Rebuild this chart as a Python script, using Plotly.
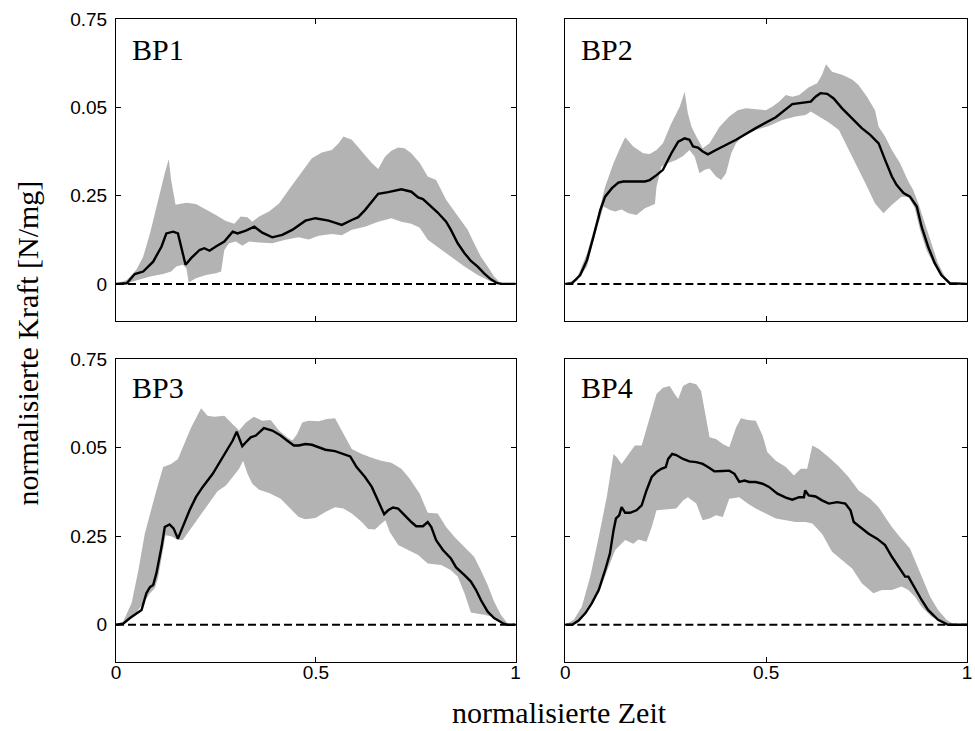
import plotly.graph_objects as go

# ---------------- data ----------------
tick_vals_y = [0, 0.25, 0.5, 0.75]
tick_text_y = ["0", "0.25", "0.05", "0.75"]
tick_vals_x = [0, 0.5, 1]
tick_text_x = ["0", "0.5", "1"]
panel_names = ["BP1", "BP2", "BP3", "BP4"]

bp1_mean_x = [0,0.022,0.027,0.047,0.068,0.093,0.114,0.126,0.143,0.155,0.174,0.188,0.209,0.221,0.234,0.250,0.271,0.292,0.304,0.325,0.346,0.366,0.391,0.416,0.441,0.474,0.499,0.532,0.565,0.590,0.606,0.623,0.656,0.681,0.714,0.739,0.756,0.768,0.789,0.805,0.826,0.838,0.855,0.872,0.888,0.905,0.921,0.938,0.954,0.967,1]
bp1_mean_y = [0,0,0.002,0.028,0.035,0.063,0.106,0.143,0.148,0.143,0.054,0.073,0.096,0.101,0.094,0.106,0.120,0.148,0.143,0.151,0.162,0.145,0.132,0.139,0.153,0.179,0.186,0.179,0.167,0.181,0.189,0.209,0.255,0.260,0.268,0.261,0.245,0.240,0.219,0.202,0.176,0.153,0.115,0.087,0.065,0.049,0.030,0.013,0.002,0,0]
bp1_up_x = [0,0.027,0.051,0.068,0.085,0.105,0.122,0.132,0.138,0.149,0.176,0.200,0.225,0.250,0.275,0.296,0.312,0.329,0.341,0.358,0.383,0.408,0.432,0.457,0.490,0.515,0.540,0.557,0.569,0.590,0.615,0.640,0.656,0.673,0.689,0.706,0.722,0.739,0.760,0.780,0.801,0.814,0.826,0.847,0.863,0.880,0.896,0.913,0.930,0.946,0.963,1]
bp1_up_y = [0,0.011,0.040,0.077,0.143,0.238,0.313,0.353,0.294,0.224,0.230,0.226,0.211,0.195,0.178,0.170,0.191,0.189,0.176,0.191,0.205,0.228,0.266,0.304,0.356,0.372,0.379,0.398,0.417,0.408,0.375,0.342,0.325,0.360,0.377,0.386,0.384,0.370,0.342,0.304,0.294,0.266,0.238,0.205,0.181,0.153,0.115,0.077,0.049,0.021,0.002,0]
bp1_lo_x = [0,0.027,0.051,0.085,0.118,0.138,0.151,0.167,0.176,0.182,0.200,0.225,0.250,0.263,0.271,0.283,0.300,0.316,0.333,0.358,0.391,0.424,0.457,0.482,0.507,0.540,0.565,0.590,0.623,0.656,0.689,0.714,0.739,0.760,0.780,0.805,0.838,0.872,0.905,0.938,0.954,1]
bp1_lo_y = [0,0.002,0.011,0.021,0.028,0.035,0.049,0.054,0.044,0.004,0.016,0.025,0.030,0.035,0.096,0.115,0.120,0.108,0.120,0.117,0.115,0.125,0.132,0.126,0.136,0.141,0.138,0.153,0.162,0.176,0.186,0.176,0.170,0.159,0.125,0.106,0.077,0.049,0.025,0.007,0.002,0]

bp2_mean_x = [0,0.017,0.037,0.054,0.070,0.087,0.099,0.116,0.132,0.144,0.198,0.210,0.227,0.243,0.264,0.281,0.297,0.309,0.318,0.330,0.342,0.355,0.375,0.425,0.474,0.524,0.565,0.611,0.623,0.635,0.652,0.668,0.689,0.714,0.738,0.759,0.780,0.796,0.813,0.825,0.842,0.858,0.875,0.887,0.903,0.920,0.936,0.957,1]
bp2_mean_y = [0,0.002,0.025,0.068,0.134,0.209,0.247,0.271,0.287,0.290,0.290,0.294,0.308,0.323,0.370,0.403,0.412,0.408,0.389,0.386,0.375,0.367,0.379,0.408,0.441,0.472,0.509,0.516,0.530,0.540,0.538,0.525,0.497,0.469,0.441,0.422,0.398,0.351,0.304,0.280,0.257,0.247,0.219,0.162,0.106,0.058,0.025,0.002,0]
bp2_up_x = [0,0.029,0.054,0.078,0.099,0.120,0.136,0.149,0.169,0.194,0.210,0.227,0.243,0.264,0.285,0.297,0.305,0.314,0.326,0.342,0.359,0.384,0.408,0.429,0.450,0.474,0.499,0.516,0.532,0.549,0.565,0.582,0.606,0.627,0.639,0.649,0.664,0.689,0.714,0.730,0.751,0.771,0.780,0.796,0.813,0.833,0.854,0.866,0.879,0.895,0.912,0.928,0.945,0.961,1]
bp2_up_y = [0,0.016,0.087,0.181,0.275,0.342,0.384,0.415,0.389,0.370,0.368,0.379,0.398,0.455,0.502,0.544,0.483,0.445,0.417,0.384,0.398,0.445,0.474,0.492,0.497,0.494,0.492,0.502,0.516,0.535,0.530,0.535,0.557,0.568,0.592,0.622,0.601,0.592,0.579,0.563,0.530,0.492,0.445,0.417,0.379,0.342,0.290,0.266,0.228,0.172,0.110,0.058,0.021,0.002,0]
bp2_lo_x = [0,0.029,0.054,0.074,0.095,0.111,0.124,0.140,0.157,0.177,0.198,0.223,0.227,0.239,0.256,0.276,0.293,0.309,0.322,0.334,0.347,0.359,0.375,0.388,0.400,0.413,0.425,0.441,0.474,0.507,0.540,0.573,0.598,0.611,0.631,0.656,0.681,0.697,0.722,0.747,0.771,0.792,0.813,0.837,0.854,0.870,0.883,0.899,0.916,0.936,0.953,1]
bp2_lo_y = [0,0.009,0.049,0.140,0.219,0.209,0.205,0.211,0.200,0.195,0.214,0.226,0.275,0.332,0.342,0.351,0.362,0.379,0.360,0.313,0.323,0.327,0.304,0.294,0.313,0.370,0.398,0.417,0.436,0.447,0.464,0.474,0.478,0.488,0.474,0.457,0.436,0.398,0.342,0.285,0.228,0.200,0.224,0.247,0.247,0.214,0.153,0.096,0.058,0.025,0.002,0]

bp3_mean_x = [0,0.018,0.035,0.051,0.064,0.076,0.085,0.093,0.101,0.114,0.122,0.134,0.144,0.155,0.167,0.184,0.200,0.217,0.242,0.258,0.275,0.292,0.302,0.308,0.316,0.325,0.337,0.350,0.370,0.391,0.412,0.428,0.445,0.457,0.474,0.490,0.507,0.524,0.548,0.565,0.586,0.602,0.623,0.640,0.656,0.671,0.681,0.693,0.706,0.722,0.739,0.751,0.768,0.780,0.789,0.801,0.818,0.838,0.851,0.872,0.888,0.901,0.913,0.930,0.946,0.967,0.979,1]
bp3_mean_y = [0,0.003,0.019,0.033,0.042,0.089,0.106,0.112,0.145,0.220,0.276,0.283,0.272,0.243,0.276,0.323,0.360,0.389,0.426,0.456,0.487,0.520,0.545,0.529,0.504,0.515,0.529,0.534,0.555,0.548,0.534,0.520,0.506,0.506,0.510,0.508,0.501,0.494,0.490,0.484,0.475,0.445,0.417,0.389,0.351,0.312,0.323,0.331,0.328,0.309,0.290,0.278,0.278,0.290,0.276,0.239,0.211,0.187,0.162,0.140,0.122,0.098,0.070,0.037,0.019,0.005,0,0]
bp3_up_x = [0,0.018,0.039,0.056,0.072,0.085,0.101,0.118,0.138,0.155,0.171,0.188,0.213,0.229,0.246,0.271,0.292,0.308,0.325,0.345,0.366,0.387,0.408,0.428,0.441,0.453,0.466,0.482,0.507,0.528,0.548,0.569,0.590,0.615,0.640,0.664,0.689,0.714,0.735,0.760,0.780,0.805,0.826,0.847,0.872,0.896,0.913,0.930,0.946,0.963,0.979,1]
bp3_up_y = [0,0.009,0.061,0.154,0.257,0.314,0.379,0.445,0.454,0.468,0.510,0.557,0.611,0.590,0.587,0.590,0.566,0.548,0.571,0.587,0.576,0.578,0.548,0.529,0.520,0.538,0.571,0.576,0.574,0.581,0.583,0.538,0.496,0.482,0.471,0.463,0.457,0.440,0.412,0.370,0.316,0.314,0.276,0.248,0.220,0.192,0.154,0.112,0.066,0.028,0.005,0]
bp3_lo_x = [0,0.022,0.043,0.068,0.085,0.097,0.105,0.118,0.124,0.138,0.155,0.167,0.184,0.209,0.234,0.254,0.275,0.292,0.308,0.318,0.329,0.341,0.358,0.383,0.412,0.437,0.457,0.474,0.499,0.524,0.548,0.569,0.590,0.615,0.631,0.648,0.664,0.674,0.685,0.706,0.731,0.756,0.780,0.814,0.838,0.855,0.872,0.888,0.921,0.946,0.967,1]
bp3_lo_y = [0,0.003,0.023,0.061,0.089,0.103,0.131,0.211,0.253,0.250,0.239,0.239,0.267,0.304,0.346,0.377,0.393,0.417,0.440,0.463,0.426,0.398,0.381,0.372,0.356,0.328,0.304,0.298,0.301,0.318,0.332,0.328,0.314,0.290,0.270,0.269,0.286,0.295,0.262,0.225,0.211,0.197,0.173,0.169,0.154,0.136,0.089,0.035,0.028,0.022,0.005,0]

bp4_mean_x = [0,0.017,0.033,0.050,0.066,0.083,0.099,0.111,0.120,0.126,0.134,0.140,0.149,0.161,0.177,0.190,0.202,0.215,0.227,0.239,0.250,0.256,0.266,0.276,0.293,0.309,0.326,0.342,0.355,0.371,0.392,0.408,0.421,0.433,0.446,0.458,0.474,0.491,0.507,0.528,0.549,0.565,0.582,0.594,0.597,0.606,0.623,0.639,0.656,0.677,0.697,0.710,0.718,0.734,0.755,0.776,0.796,0.813,0.829,0.846,0.854,0.870,0.887,0.903,0.928,0.953,1]
bp4_mean_y = [0,0,0.012,0.033,0.061,0.098,0.154,0.201,0.267,0.300,0.309,0.332,0.316,0.316,0.323,0.337,0.379,0.417,0.431,0.440,0.445,0.468,0.482,0.479,0.468,0.461,0.459,0.454,0.445,0.433,0.434,0.435,0.426,0.403,0.407,0.403,0.403,0.398,0.389,0.370,0.359,0.353,0.360,0.360,0.379,0.365,0.362,0.351,0.342,0.346,0.342,0.323,0.290,0.276,0.257,0.243,0.225,0.192,0.164,0.136,0.136,0.103,0.070,0.042,0.014,0,0]
bp4_up_x = [0,0.021,0.041,0.062,0.083,0.103,0.120,0.128,0.140,0.157,0.173,0.190,0.210,0.227,0.243,0.260,0.272,0.281,0.293,0.309,0.326,0.338,0.347,0.359,0.375,0.392,0.408,0.425,0.437,0.454,0.474,0.491,0.503,0.524,0.549,0.569,0.586,0.602,0.615,0.631,0.656,0.681,0.705,0.730,0.759,0.780,0.796,0.813,0.833,0.858,0.870,0.887,0.908,0.928,0.949,0.969,1]
bp4_up_y = [0,0.014,0.051,0.136,0.248,0.360,0.482,0.473,0.454,0.482,0.506,0.506,0.585,0.651,0.669,0.674,0.651,0.637,0.674,0.684,0.679,0.660,0.604,0.529,0.524,0.510,0.501,0.557,0.583,0.578,0.576,0.534,0.487,0.463,0.445,0.421,0.440,0.440,0.506,0.496,0.473,0.447,0.417,0.379,0.356,0.332,0.304,0.276,0.248,0.215,0.183,0.136,0.080,0.042,0.014,0,0]
bp4_lo_x = [0,0.021,0.041,0.062,0.083,0.103,0.124,0.149,0.169,0.182,0.202,0.215,0.227,0.252,0.276,0.293,0.305,0.326,0.342,0.359,0.375,0.392,0.408,0.433,0.454,0.474,0.499,0.524,0.549,0.573,0.598,0.615,0.639,0.664,0.689,0.714,0.738,0.767,0.788,0.813,0.837,0.854,0.870,0.887,0.912,0.936,0.953,1]
bp4_lo_y = [0,0.003,0.023,0.061,0.089,0.150,0.211,0.239,0.229,0.241,0.234,0.276,0.323,0.326,0.328,0.351,0.360,0.342,0.295,0.300,0.309,0.304,0.356,0.360,0.342,0.328,0.314,0.300,0.295,0.290,0.290,0.286,0.257,0.206,0.183,0.159,0.117,0.089,0.098,0.098,0.108,0.098,0.080,0.051,0.023,0.009,0,0]

# ---------------- figure ----------------
panels = [
    (bp1_mean_x, bp1_mean_y, bp1_up_x, bp1_up_y, bp1_lo_x, bp1_lo_y),
    (bp2_mean_x, bp2_mean_y, bp2_up_x, bp2_up_y, bp2_lo_x, bp2_lo_y),
    (bp3_mean_x, bp3_mean_y, bp3_up_x, bp3_up_y, bp3_lo_x, bp3_lo_y),
    (bp4_mean_x, bp4_mean_y, bp4_up_x, bp4_up_y, bp4_lo_x, bp4_lo_y),
]

BAND = "rgb(179,179,179)"
fig = go.Figure()
for i, (mx, my, ux, uy, lx, ly) in enumerate(panels):
    s = "" if i == 0 else str(i + 1)
    xa, ya = "x" + s, "y" + s
    fig.add_trace(go.Scatter(x=list(ux) + list(lx)[::-1], y=list(uy) + list(ly)[::-1],
                             fill="toself", fillcolor=BAND, mode="lines",
                             line=dict(width=0, color=BAND), xaxis=xa, yaxis=ya,
                             showlegend=False, hoverinfo="skip"))
    fig.add_trace(go.Scatter(x=[0, 1], y=[0, 0], mode="lines",
                             line=dict(color="black", width=2, dash="8px,4px"),
                             xaxis=xa, yaxis=ya, showlegend=False, hoverinfo="skip"))
    fig.add_trace(go.Scatter(x=mx, y=my, mode="lines",
                             line=dict(color="black", width=2.4),
                             xaxis=xa, yaxis=ya, showlegend=False))

W, H = 975, 731
ML, MR, MT, MB = 116, 3, 19, 69
pw, ph = W - ML - MR, H - MT - MB
xdom_l = [0, 402 / pw]
xdom_r = [452 / pw, 1]
ydom_t = [(H - MB - 321) / ph, 1]
ydom_b = [0, (H - MB - 359) / ph]

tickfont = dict(family="Liberation Sans, Arial, sans-serif", size=19, color="black")
common = dict(showline=True, linecolor="black", linewidth=1, mirror="ticks",
              ticks="inside", ticklen=5, tickcolor="black", tickwidth=1,
              showgrid=False, zeroline=False, tickfont=tickfont, fixedrange=True)

def xax(dom, anchor, labels):
    return dict(common, domain=dom, anchor=anchor, range=[0, 1],
                tickvals=tick_vals_x, ticktext=tick_text_x,
                showticklabels=labels, ticklabelstandoff=-7)

def yax(dom, anchor, labels):
    return dict(common, domain=dom, anchor=anchor, range=[-0.105, 0.75],
                tickvals=tick_vals_y, ticktext=tick_text_y,
                showticklabels=labels, ticklabelstandoff=4)

annotations = []
for i, name in enumerate(panel_names):
    s = "" if i == 0 else str(i + 1)
    annotations.append(dict(text=name, xref="x" + s + " domain", yref="y" + s + " domain",
                            x=0.035, y=0.90 if i < 2 else 0.905, xanchor="left", yanchor="middle",
                            showarrow=False,
                            font=dict(family="Liberation Serif, Times New Roman, serif", size=30, color="black")))

serif = dict(family="Liberation Serif, Times New Roman, serif", size=30, color="black")
annotations.append(dict(text="normalisierte Zeit", xref="paper", yref="paper",
                        x=(562 - ML) / pw, y=(H - MB - 730) / ph, xanchor="center", yanchor="bottom",
                        showarrow=False, font=serif, borderpad=0))
annotations.append(dict(text="normalisierte Kraft [N/mg]", xref="paper", yref="paper",
                        x=(26 - ML) / pw, y=(H - MB - 343) / ph, xanchor="center", yanchor="middle",
                        textangle=-90, showarrow=False, font=serif))

fig.update_layout(
    width=W, height=H, margin=dict(l=ML, r=MR, t=MT, b=MB),
    paper_bgcolor="white", plot_bgcolor="white",
    xaxis=xax(xdom_l, "y", False), yaxis=yax(ydom_t, "x", True),
    xaxis2=xax(xdom_r, "y2", False), yaxis2=yax(ydom_t, "x2", False),
    xaxis3=xax(xdom_l, "y3", True), yaxis3=yax(ydom_b, "x3", True),
    xaxis4=xax(xdom_r, "y4", True), yaxis4=yax(ydom_b, "x4", False),
    annotations=annotations,
)

fig.write_html("out.html")
